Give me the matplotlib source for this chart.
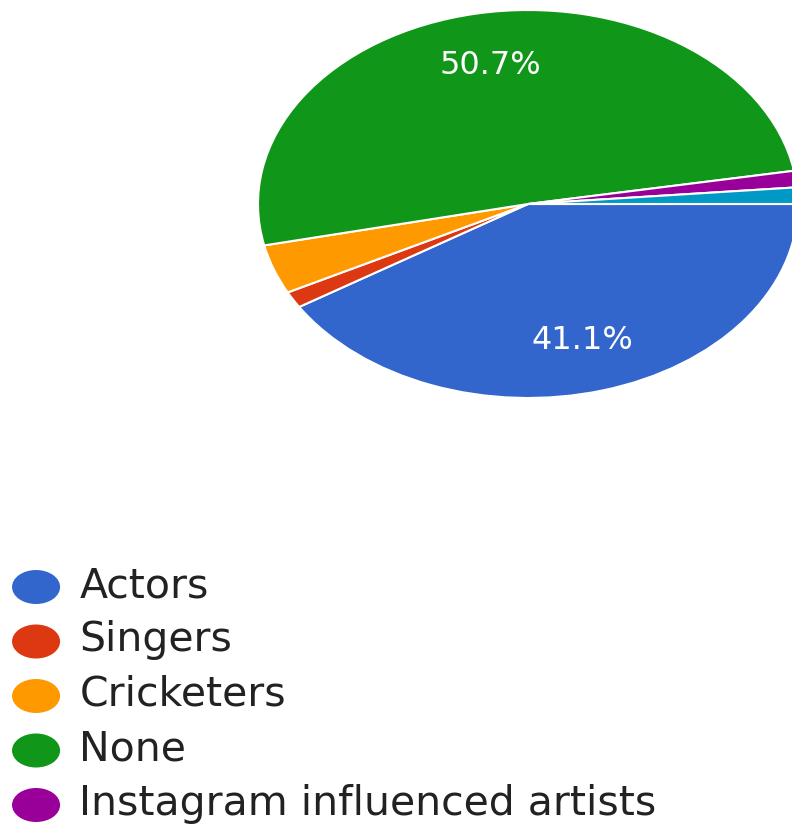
import matplotlib
matplotlib.use("Agg")
import matplotlib.pyplot as plt
from matplotlib.patches import Ellipse

categories = ["Actors", "Singers", "Cricketers", "None",
              "Instagram influenced artists", "Other"]
counts = [30, 1, 3, 37, 1, 1]
colors = ["#3366cc", "#dc3912", "#ff9900", "#109618", "#990099", "#0099c6"]
legend_count = 5  # only first five legend entries visible

fig = plt.figure(figsize=(7.92, 8.25), dpi=100)
ax = fig.add_axes([0, 0, 1, 1])


def fmt(p):
    return f"{p:.1f}%" if p > 5 else ""


wedges, texts, autotexts = ax.pie(
    counts, colors=colors, startangle=0, counterclock=False,
    autopct=fmt, pctdistance=0.73,
    wedgeprops=dict(edgecolor="white", linewidth=1.5),
    textprops=dict(color="white", fontsize=23, family="DejaVu Sans"))

ax.set_aspect("auto")
ax.set_xlim(-528 / 270, 264 / 270)
ax.set_ylim((204 - 825) / 194, 204 / 194)
ax.axis("off")

# legend drawn manually (stretched like the rest of the chart)
y0 = (204 - 587) / 194
dy = 54.5 / 194
for i in range(legend_count):
    y = y0 - i * dy
    ax.add_patch(Ellipse((-1.822, y), width=2 * 0.089, height=2 * 0.0876,
                         facecolor=colors[i], edgecolor="none"))
    ax.text(-1.662, y - 10 / 194, categories[i], fontsize=29.5,
            family="DejaVu Sans", color="#222222", va="baseline", ha="left")

fig.savefig("out.png", dpi=100)
